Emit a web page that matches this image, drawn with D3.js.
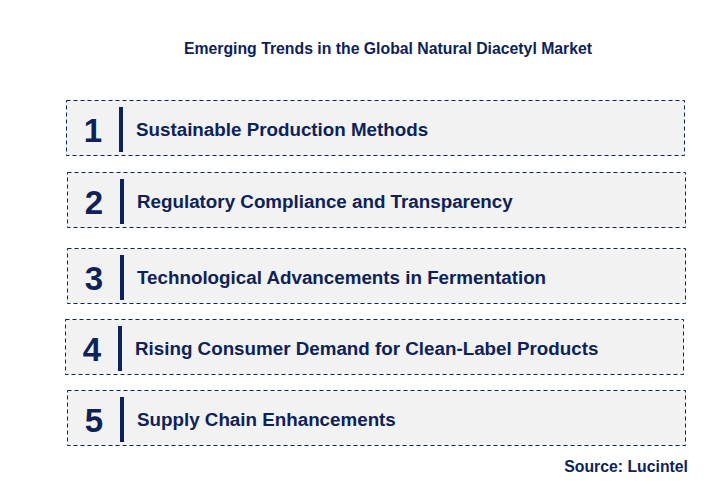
<!DOCTYPE html>
<html><head><meta charset="utf-8">
<script src="https://cdn.jsdelivr.net/npm/d3@7"></script>
<style>body{margin:0;background:#fff}</style>
</head><body>
<script>
const numbers = ["1","2","3","4","5"];
const trends = [
  "Sustainable Production Methods",
  "Regulatory Compliance and Transparency",
  "Technological Advancements in Fermentation",
  "Rising Consumer Demand for Clean-Label Products",
  "Supply Chain Enhancements"
];
const title = "Emerging Trends in the Global Natural Diacetyl Market";
const source = "Source: Lucintel";
const navy = "#0d2259";

const svg = d3.select("body").append("svg").attr("width",712).attr("height",481)
  .style("font-family","Arial, 'Liberation Sans', sans-serif");

svg.append("text").attr("x",388).attr("y",54).attr("text-anchor","middle")
  .attr("font-size",15.8).attr("font-weight","bold").attr("fill",navy).text(title);

const rowTops = [100,172,248,319,390];
const rowLefts = [66,67,67,65,67];

const g = svg.selectAll("g.row").data(numbers).join("g").attr("class","row")
  .attr("transform",(d,i)=>`translate(${rowLefts[i]},${rowTops[i]})`);
g.append("rect").attr("x",0.5).attr("y",0.5).attr("width",618).attr("height",55)
  .attr("fill","#f2f2f2").attr("stroke",navy).attr("stroke-width",1).attr("stroke-dasharray","4,3");
g.append("text").attr("x",27).attr("y",42).attr("text-anchor","middle")
  .attr("font-size",33).attr("font-weight","bold").attr("fill",navy).text(d=>d);
g.append("rect").attr("x",53).attr("y",7).attr("width",4).attr("height",45).attr("fill",navy);
g.append("text").attr("x",70).attr("y",36).attr("font-size",18.8).attr("font-weight","bold")
  .attr("fill",navy).text((d,i)=>trends[i]);

svg.append("text").attr("x",688).attr("y",472).attr("text-anchor","end")
  .attr("font-size",15.8).attr("font-weight","bold").attr("fill",navy).text(source);
</script>
</body></html>
